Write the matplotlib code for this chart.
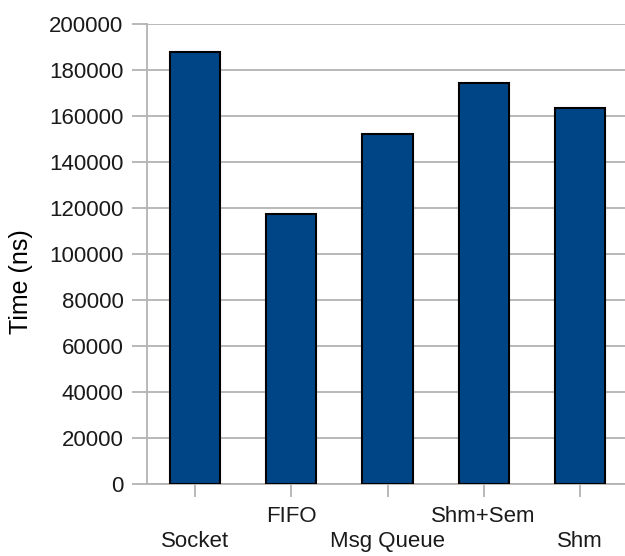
import matplotlib
matplotlib.use("Agg")
import matplotlib.pyplot as plt
import numpy as np

# IPC benchmark results
methods = ["Socket", "FIFO", "Msg Queue", "Shm+Sem", "Shm"]
times_ns = [188000, 117500, 152000, 174500, 163500]
yticks = np.arange(0, 200001, 20000)

bar_color = "#004586"
grid_color = "#b3b3b3"
text_color = "#1a1a1a"

plt.rcParams['font.family'] = ['Liberation Sans', 'DejaVu Sans']
plt.rcParams['text.color'] = text_color
fig = plt.figure(figsize=(6.25, 5.56), dpi=100)
ax = fig.add_axes([147/625, 72/556, 481/625, 460/556])

x = np.arange(len(methods))
ax.bar(x, times_ns, width=0.52, color=bar_color, edgecolor="black", linewidth=1.5, zorder=3)

ax.set_xlim(-0.5, len(methods) - 0.5)
ax.set_ylim(0, 200000)
ax.set_yticks(yticks)
ax.set_yticklabels([str(v) for v in yticks])
ax.set_xticks(x)
ax.set_xticklabels(methods)

ax.yaxis.grid(True, color=grid_color, linewidth=1.3, zorder=0)
ax.tick_params(axis="y", length=11, width=1.3, color=grid_color, pad=6,
               labelsize=16, labelcolor=text_color)
ax.tick_params(axis="x", length=9.5, width=1.3, color=grid_color, pad=6.5,
               labelsize=16, labelcolor=text_color)

# staggered category labels: every other one goes on a lower row
for i, tick in enumerate(ax.xaxis.get_major_ticks()):
    if i % 2 == 0:
        tick.set_pad(24.5)

for side in ["top", "right"]:
    ax.spines[side].set_visible(False)
for side in ["left", "bottom"]:
    ax.spines[side].set_color(grid_color)
    ax.spines[side].set_linewidth(1.3)

ax.set_ylabel("Time (ns)", fontsize=18)
ax.yaxis.set_label_coords((33 - 147) / 481, 0.441)

fig.savefig("out.png", dpi=100)
